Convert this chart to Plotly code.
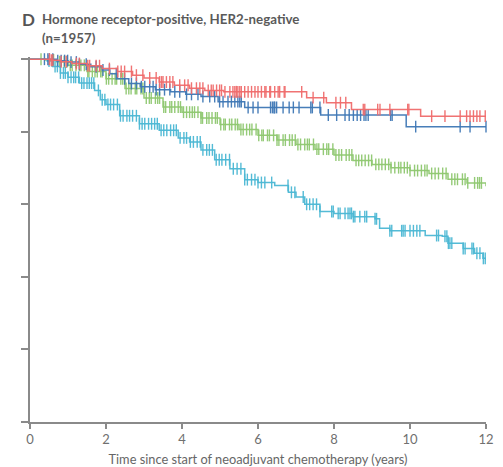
import numpy as np
import plotly.graph_objects as go

# ---- Kaplan-Meier step data (years, % event-free) ----
red_t = [0, 0.55, 0.8, 1.1, 1.5, 1.9, 2.3, 2.7, 3.0, 3.4, 3.8, 4.2, 4.6, 5.1, 7.28, 7.8, 8.46, 10.28, 12.0]
red_s = [100, 99.7, 99.3, 98.8, 98.2, 97.4, 96.6, 95.6, 94.8, 93.7, 92.8, 92.0, 91.4, 91.0, 89.4, 88.0, 86.1, 84.3, 84.3]

blue_t = [0, 0.7, 1.0, 1.3, 1.6, 1.9, 2.1, 2.3, 2.6, 2.9, 3.3, 3.7, 4.1, 4.5, 4.95, 5.65, 7.65, 9.9, 12.0]
blue_s = [100, 99.6, 99.2, 98.6, 97.9, 97.0, 96.0, 94.6, 93.3, 92.4, 91.6, 91.0, 90.3, 89.7, 88.3, 86.7, 84.6, 81.4, 81.4]

green_t = [0, 0.4, 0.7, 1.0, 1.5, 2.0, 2.5, 3.0, 3.5, 4.0, 4.5, 5.0, 5.5, 6.0, 6.5, 7.0, 7.5, 8.0,
           8.5, 9.0, 9.5, 10.0, 10.5, 11.0, 11.5, 12.0]
green_s = [100, 99.8, 99.3, 98.3, 96.6, 94.6, 91.9, 89.3, 86.8, 85.4, 83.8, 82.0, 80.6, 79.0, 77.7, 76.5,
           75.2, 73.6, 72.1, 71.0, 70.1, 69.3, 68.5, 66.9, 65.9, 65.0]

cyan_t = [0, 0.45, 0.6, 0.8, 1.0, 1.3, 1.7, 1.85, 2.0, 2.36, 2.88, 3.4, 3.9, 4.2, 4.5, 4.86, 5.26, 5.65,
          6.0, 6.44, 6.8, 7.0, 7.23, 7.63, 8.0, 8.5, 9.08, 9.2, 9.47, 10.4, 10.85, 11.0, 11.4, 11.7, 11.92, 12.0]
cyan_s = [100, 99.5, 98.0, 96.2, 95.0, 93.4, 91.4, 88.8, 87.5, 84.4, 82.2, 80.4, 78.3, 77.2, 75.0, 72.3,
          69.8, 66.8, 66.0, 65.2, 63.3, 62.0, 60.0, 58.0, 57.5, 56.6, 56.0, 53.4, 52.7, 51.4, 51.2, 49.3,
          47.8, 46.5, 45.1, 44.6]

# ---- censoring times ----
red_c = [0.51, 0.56, 0.60, 0.82, 0.95, 1.22, 1.30, 1.52, 1.57, 1.74, 1.83, 2.09, 2.31, 2.40, 2.49, 2.67,
         2.80, 2.97, 3.15, 3.32, 3.41, 3.46, 3.50, 3.59, 3.68, 3.76, 3.94, 4.07, 4.16, 4.25, 4.38, 4.47,
         4.55, 4.69, 4.77, 4.82, 4.91, 4.99, 5.04, 5.13, 5.26, 5.34, 5.39, 5.43, 5.47, 5.52, 5.56, 5.65,
         5.74, 5.83, 5.92, 6.00, 6.09, 6.18, 6.21, 6.31, 6.33, 6.44, 6.53, 6.57, 6.69, 6.71, 7.15, 7.45,
         7.73, 8.05, 8.17, 8.31, 8.77, 8.81, 9.15, 9.21, 9.47, 9.94, 9.97, 10.57, 10.92, 11.32, 11.49,
         11.58, 11.67, 11.76, 11.84, 11.98]
blue_c = [0.38, 0.47, 0.51, 0.60, 0.73, 0.82, 0.91, 0.99, 1.08, 1.22, 1.30, 1.48, 1.74, 1.92, 2.09, 2.27,
          2.49, 2.67, 2.80, 2.93, 3.02, 3.15, 3.24, 3.32, 3.41, 3.54, 3.68, 3.81, 3.94, 4.12, 4.25, 4.42,
          4.55, 4.73, 4.86, 4.99, 5.08, 5.21, 5.30, 5.39, 5.47, 5.52, 5.56, 5.74, 5.87, 6.00, 6.33, 6.38,
          6.42, 6.44, 6.49, 6.66, 6.82, 6.93, 7.08, 7.39, 7.43, 7.63, 7.85, 8.07, 8.29, 8.40, 8.51, 8.61,
          8.70, 8.79, 8.84, 8.90, 9.49, 9.53, 10.15, 11.32, 11.58, 12.0]
green_c = [0.29, 0.62, 0.78, 0.9, 0.97, 1.06, 1.11, 1.21, 1.3, 1.34, 1.43, 1.52, 1.55, 1.64, 1.71, 1.77,
           1.86, 1.9, 2.01, 2.07, 2.16, 2.24, 2.28, 2.39, 2.44, 2.53, 2.6, 2.66, 2.77, 2.81, 2.92, 2.97,
           3.06, 3.14, 3.19, 3.3, 3.36, 3.41, 3.52, 3.57, 3.68, 3.73, 3.81, 3.9, 3.96, 4.04, 4.12, 4.2,
           4.27, 4.33, 4.42, 4.5, 4.54, 4.65, 4.71, 4.79, 4.88, 4.93, 5.02, 5.1, 5.14, 5.25, 5.31, 5.4,
           5.46, 5.55, 5.61, 5.7, 5.78, 5.84, 5.95, 6.02, 6.1, 6.14, 6.25, 6.3, 6.41, 6.5, 6.55, 6.66,
           6.72, 6.83, 6.9, 6.98, 7.05, 7.12, 7.23, 7.3, 7.35, 7.46, 7.55, 7.6, 7.72, 7.81, 7.86, 7.97,
           8.05, 8.13, 8.2, 8.32, 8.4, 8.47, 8.58, 8.65, 8.73, 8.82, 8.91, 8.99, 9.1, 9.18, 9.26, 9.35,
           9.44, 9.5, 9.6, 9.7, 9.76, 9.85, 9.93, 10.0, 10.12, 10.2, 10.3, 10.39, 10.45, 10.57, 10.66,
           10.75, 10.86, 10.95, 11.1, 11.18, 11.25, 11.38, 11.45, 11.52, 11.7, 11.78, 11.83, 11.88]
cyan_c = [0.5, 0.58, 0.66, 0.72, 0.8, 0.88, 0.93, 1.0, 1.08, 1.15, 1.2, 1.28, 1.36, 1.42, 1.5, 1.56, 1.62,
          1.68, 1.8, 1.9, 1.97, 2.05, 2.12, 2.2, 2.3, 2.38, 2.45, 2.55, 2.62, 2.7, 2.8, 2.88, 2.95, 3.02,
          3.12, 3.2, 3.28, 3.35, 3.45, 3.52, 3.6, 3.7, 3.78, 3.85, 3.95, 4.05, 4.12, 4.22, 4.3, 4.4, 4.48,
          4.55, 4.65, 4.72, 4.8, 4.9, 4.98, 5.05, 5.15, 5.25, 5.35, 5.45, 5.55, 5.65, 5.72, 5.83, 5.92,
          6.0, 6.09, 6.18, 6.36, 6.79, 6.88, 6.97, 7.19, 7.28, 7.36, 7.45, 7.54, 7.63, 7.94, 7.98, 8.11,
          8.16, 8.29, 8.37, 8.42, 8.46, 8.51, 8.55, 8.68, 8.81, 8.86, 9.08, 9.12, 9.47, 9.52, 9.78, 9.82,
          9.87, 10.0, 10.09, 10.18, 10.26, 10.7, 10.75, 10.92, 10.97, 11.01, 11.05, 11.1, 11.4, 11.45,
          11.63, 11.67, 11.76, 11.84, 11.93, 11.98]

x_ticks = [0, 2, 4, 6, 8, 10, 12]
y_ticks = [0, 20, 40, 60, 80, 100]

groups = [
    (green_t, green_s, green_c, "#8fc870"),
    (cyan_t, cyan_s, cyan_c, "#4bb8d4"),
    (blue_t, blue_s, blue_c, "#3f78b6"),
    (red_t, red_s, red_c, "#f06c6c"),
]


def step_value(t_arr, s_arr, x):
    t_arr = np.asarray(t_arr)
    s_arr = np.asarray(s_arr)
    idx = np.searchsorted(t_arr, x, side="right") - 1
    idx = np.clip(idx, 0, len(s_arr) - 1)
    return s_arr[idx]


fig = go.Figure()
for t, s, c, col in groups:
    fig.add_trace(go.Scatter(x=t, y=s, mode="lines", line=dict(color=col, width=1.5, shape="hv"),
                             opacity=0.95, showlegend=False, hoverinfo="skip"))
    cy = step_value(t, s, np.asarray(c))
    fig.add_trace(go.Scatter(x=c, y=cy, mode="markers",
                             marker=dict(symbol="line-ns", size=8.5, line=dict(color=col, width=1.4)),
                             opacity=0.95, cliponaxis=False, showlegend=False, hoverinfo="skip"))

axis_col = "#8a8a8a"
fig.update_layout(
    width=503, height=467,
    margin=dict(l=30, r=17, t=57, b=45, autoexpand=False),
    paper_bgcolor="white", plot_bgcolor="white",
    font=dict(family="Lato, 'Open Sans', sans-serif", color="#666666", size=12),
    xaxis=dict(range=[0, 12], tickvals=x_ticks, ticktext=[str(v) for v in x_ticks], automargin=False,
               showline=True, linecolor=axis_col, linewidth=1.5, ticks="outside", ticklen=5,
               tickwidth=1.5, tickcolor=axis_col, showgrid=False, zeroline=False,
               tickfont=dict(size=13, color="#707070"),
               title=dict(text="Time since start of neoadjuvant chemotherapy (years)",
                          font=dict(size=12.8, color="#666666"), standoff=10)),
    yaxis=dict(range=[0, 100.6], tickvals=y_ticks, showticklabels=False, automargin=False,
               showline=True, linecolor=axis_col, linewidth=1.5, ticks="outside", ticklen=7,
               tickwidth=1.5, tickcolor=axis_col, showgrid=False, zeroline=False),
    annotations=[
        dict(text="<b>D</b>", x=-0.022, y=1.102, xref="paper", yref="paper", xanchor="left",
             yanchor="middle", showarrow=False, font=dict(size=17, color="#555555")),
        dict(text="<b>Hormone receptor-positive, HER2-negative</b>", x=0.022, y=1.105, xref="paper",
             yref="paper", xanchor="left", yanchor="middle", showarrow=False,
             font=dict(size=13.3, color="#5a5a5a")),
        dict(text="<b>(n=1957)</b>", x=0.022, y=1.052, xref="paper", yref="paper", xanchor="left",
             yanchor="middle", showarrow=False, font=dict(size=13.3, color="#5a5a5a")),
    ],
)

fig.write_html("out.html", config={"displayModeBar": False},
               post_script="document.body.style.margin='0';document.body.style.padding='0';")
